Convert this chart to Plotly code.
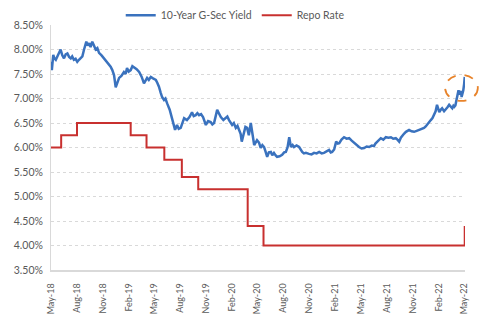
import plotly.graph_objects as go

# 10-year G-Sec yield (%), sampled through the period
gsec_dates = [
    "2018-05-01", "2018-05-04", "2018-05-09", "2018-05-13", "2018-05-18", "2018-05-23",
    "2018-05-29", "2018-06-04", "2018-06-10", "2018-06-16", "2018-06-22", "2018-06-28",
    "2018-07-04", "2018-07-10", "2018-07-15", "2018-07-21", "2018-07-27", "2018-08-02",
    "2018-08-08", "2018-08-14", "2018-08-20", "2018-08-26", "2018-09-03", "2018-09-08",
    "2018-09-13", "2018-09-18", "2018-09-24", "2018-09-30", "2018-10-06", "2018-10-12",
    "2018-10-18", "2018-10-27", "2018-11-05", "2018-11-10", "2018-11-15", "2018-11-21",
    "2018-11-28", "2018-12-04", "2018-12-10", "2018-12-16", "2018-12-22", "2018-12-28",
    "2019-01-05", "2019-01-14", "2019-01-20", "2019-01-25", "2019-01-31", "2019-02-07",
    "2019-02-13", "2019-02-19", "2019-02-28", "2019-03-09", "2019-03-18", "2019-03-26",
    "2019-04-01", "2019-04-06", "2019-04-12", "2019-04-19", "2019-04-27", "2019-05-07",
    "2019-05-12", "2019-05-18", "2019-05-24", "2019-05-29", "2019-06-05", "2019-06-10",
    "2019-06-16", "2019-06-20", "2019-06-25", "2019-07-03", "2019-07-09", "2019-07-14",
    "2019-07-21", "2019-07-27", "2019-08-03", "2019-08-09", "2019-08-15", "2019-08-25",
    "2019-09-03", "2019-09-12", "2019-09-18", "2019-09-25", "2019-10-01", "2019-10-07",
    "2019-10-14", "2019-10-21", "2019-10-31", "2019-11-08", "2019-11-17", "2019-11-23",
    "2019-11-29", "2019-12-04", "2019-12-10", "2019-12-16", "2019-12-23", "2020-01-01",
    "2020-01-09", "2020-01-15", "2020-01-21", "2020-02-01", "2020-02-07", "2020-02-14",
    "2020-02-20", "2020-02-26", "2020-03-02", "2020-03-06", "2020-03-10", "2020-03-14",
    "2020-03-19", "2020-03-25", "2020-03-31", "2020-04-07", "2020-04-13", "2020-04-19",
    "2020-04-24", "2020-04-29", "2020-05-06", "2020-05-12", "2020-05-18", "2020-05-24",
    "2020-05-29", "2020-06-04", "2020-06-10", "2020-06-17", "2020-06-22", "2020-06-28",
    "2020-07-04", "2020-07-09", "2020-07-18", "2020-07-27", "2020-08-03", "2020-08-09",
    "2020-08-15", "2020-08-21", "2020-08-27", "2020-09-02", "2020-09-07", "2020-09-16",
    "2020-09-25", "2020-10-01", "2020-10-06", "2020-10-12", "2020-10-19", "2020-10-30",
    "2020-11-08", "2020-11-17", "2020-11-26", "2020-12-05", "2020-12-14", "2020-12-22",
    "2020-12-31", "2021-01-09", "2021-01-15", "2021-01-20", "2021-01-27", "2021-02-03",
    "2021-02-09", "2021-02-14", "2021-02-22", "2021-03-03", "2021-03-12", "2021-03-21",
    "2021-03-30", "2021-04-08", "2021-04-16", "2021-04-25", "2021-05-04", "2021-05-13",
    "2021-05-22", "2021-05-31", "2021-06-09", "2021-06-17", "2021-06-22", "2021-06-28",
    "2021-07-04", "2021-07-11", "2021-07-20", "2021-07-29", "2021-08-07", "2021-08-16",
    "2021-08-24", "2021-09-02", "2021-09-08", "2021-09-14", "2021-09-20", "2021-09-25",
    "2021-10-01", "2021-10-08", "2021-10-14", "2021-10-19", "2021-10-28", "2021-11-06",
    "2021-11-15", "2021-11-24", "2021-12-02", "2021-12-11", "2021-12-17", "2021-12-22",
    "2021-12-28", "2022-01-04", "2022-01-10", "2022-01-16", "2022-01-21", "2022-01-26",
    "2022-01-30", "2022-02-03", "2022-02-08", "2022-02-13", "2022-02-20", "2022-02-26",
    "2022-03-04", "2022-03-10", "2022-03-15", "2022-03-21", "2022-03-25", "2022-03-28",
    "2022-04-01", "2022-04-05", "2022-04-08", "2022-04-12", "2022-04-15", "2022-04-18",
    "2022-04-21", "2022-04-23", "2022-04-26", "2022-04-29", "2022-05-02", "2022-05-04",
]
gsec_yield = [
    7.75, 7.58, 7.89, 7.82, 7.79, 7.86,
    7.93, 8.00, 7.88, 7.82, 7.90, 7.92,
    7.85, 7.82, 7.86, 7.79, 7.81, 7.75,
    7.79, 7.82, 7.86, 8.00, 8.16, 8.08,
    8.13, 8.05, 8.16, 8.08, 8.00, 8.03,
    7.93, 7.88, 7.82, 7.79, 7.75, 7.70,
    7.65, 7.58, 7.48, 7.23, 7.33, 7.42,
    7.46, 7.54, 7.50, 7.62, 7.55, 7.58,
    7.66, 7.64, 7.60, 7.54, 7.44, 7.31,
    7.36, 7.42, 7.38, 7.44, 7.41, 7.38,
    7.32, 7.24, 7.12, 7.03, 6.97, 7.00,
    6.90, 6.85, 6.77, 6.60, 6.48, 6.36,
    6.46, 6.38, 6.40, 6.50, 6.60, 6.56,
    6.62, 6.72, 6.64, 6.66, 6.70, 6.66,
    6.68, 6.62, 6.46, 6.54, 6.52, 6.47,
    6.50, 6.62, 6.77, 6.70, 6.62, 6.56,
    6.60, 6.63, 6.56, 6.46, 6.50, 6.40,
    6.44, 6.36, 6.28, 6.12, 6.22, 6.30,
    6.42, 6.40, 6.25, 6.50, 6.30, 6.05,
    6.10, 6.15, 6.10, 5.99, 6.05, 6.01,
    5.92, 5.81, 5.90, 5.91, 5.84, 5.89,
    5.84, 5.81, 5.82, 5.85, 5.90, 5.91,
    6.00, 6.21, 6.01, 6.05, 6.01, 6.04,
    6.01, 5.95, 5.91, 5.88, 5.89, 5.87,
    5.86, 5.89, 5.88, 5.91, 5.88, 5.89,
    5.92, 5.95, 5.90, 5.91, 5.96, 6.12,
    6.08, 6.09, 6.16, 6.21, 6.18, 6.19,
    6.14, 6.09, 6.04, 6.01, 5.98, 5.99,
    6.02, 6.01, 6.04, 6.03, 6.08, 6.12,
    6.15, 6.19, 6.16, 6.21, 6.20, 6.21,
    6.18, 6.19, 6.16, 6.12, 6.20, 6.25,
    6.28, 6.32, 6.35, 6.36, 6.33, 6.32,
    6.34, 6.36, 6.38, 6.40, 6.43, 6.46,
    6.50, 6.56, 6.60, 6.66, 6.74, 6.87,
    6.78, 6.72, 6.77, 6.80, 6.74, 6.77,
    6.82, 6.87, 6.84, 6.80, 6.85, 6.83,
    6.86, 6.97, 7.10, 7.17, 7.08, 7.13,
    7.15, 7.03, 7.08, 7.17, 7.30, 7.44,
]

# RBI policy repo rate (%), value effective from each date
repo_dates = [
    "2018-05-01", "2018-06-06", "2018-08-01", "2019-02-07", "2019-04-04", "2019-06-06",
    "2019-08-07", "2019-10-04", "2020-03-27", "2020-05-22", "2022-05-04",
]
repo_rate = [6.00, 6.25, 6.50, 6.25, 6.00, 5.75, 5.40, 5.15, 4.40, 4.00, 4.40]

tick_dates = [
    "2018-05-01", "2018-08-01", "2018-11-01", "2019-02-01", "2019-05-01", "2019-08-01",
    "2019-11-01", "2020-02-01", "2020-05-01", "2020-08-01", "2020-11-01", "2021-02-01",
    "2021-05-01", "2021-08-01", "2021-11-01", "2022-02-01", "2022-05-01",
]
tick_text = [
    "May-18", "Aug-18", "Nov-18", "Feb-19", "May-19", "Aug-19", "Nov-19", "Feb-20",
    "May-20", "Aug-20", "Nov-20", "Feb-21", "May-21", "Aug-21", "Nov-21", "Feb-22", "May-22",
]
y_ticks = [3.5, 4.0, 4.5, 5.0, 5.5, 6.0, 6.5, 7.0, 7.5, 8.0, 8.5]

BLUE = "#3A72BE"
RED = "#C8302F"
ORANGE = "#E8832A"
FONT = "Lato"

fig = go.Figure()
fig.add_trace(go.Scatter(
    x=gsec_dates, y=gsec_yield, mode="lines", name="10-Year G-Sec Yield",
    line=dict(color=BLUE, width=2.5),
))
fig.add_trace(go.Scatter(
    x=repo_dates, y=repo_rate, mode="lines", name="Repo Rate",
    line=dict(color=RED, width=2, shape="hv"),
))

# dashed ring highlighting the latest spike in yields
fig.add_shape(
    type="circle", xref="paper", yref="paper",
    x0=0.952, x1=1.031, y0=0.69, y1=0.796,
    line=dict(color=ORANGE, width=1.8, dash="dash"),
)

fig.update_layout(
    width=500, height=322,
    margin=dict(l=51, r=35, t=25, b=52, autoexpand=False),
    paper_bgcolor="white", plot_bgcolor="white",
    font=dict(family=FONT, size=11, color="#595959"),
    showlegend=True,
    legend=dict(
        orientation="h", x=0.445, xanchor="center", y=1.04, yanchor="middle",
        font=dict(family=FONT, size=10.5, color="#595959"),
        itemwidth=30, tracegroupgap=0, bgcolor="rgba(0,0,0,0)",
    ),
    xaxis=dict(
        type="date", range=["2018-05-01", "2022-05-05"],
        tickvals=tick_dates, ticktext=tick_text, tickangle=-90,
        tickfont=dict(family=FONT, size=9, color="#595959"),
        showgrid=False, showline=True, linecolor="#D9D9D9", linewidth=1.5,
        ticks="", zeroline=False, ticklabelstandoff=8, automargin=False,
    ),
    yaxis=dict(
        range=[3.5, 8.5], tickvals=y_ticks,
        ticktext=[f"{v:.2f}%" for v in y_ticks],
        tickfont=dict(family=FONT, size=10.5, color="#595959"),
        showgrid=True, gridcolor="#D9D9D9", griddash="dot", gridwidth=1,
        showline=True, linecolor="#D9D9D9", linewidth=1,
        ticks="", zeroline=False, ticklabelstandoff=5, automargin=False,
    ),
)

fig.write_html("out.html")
